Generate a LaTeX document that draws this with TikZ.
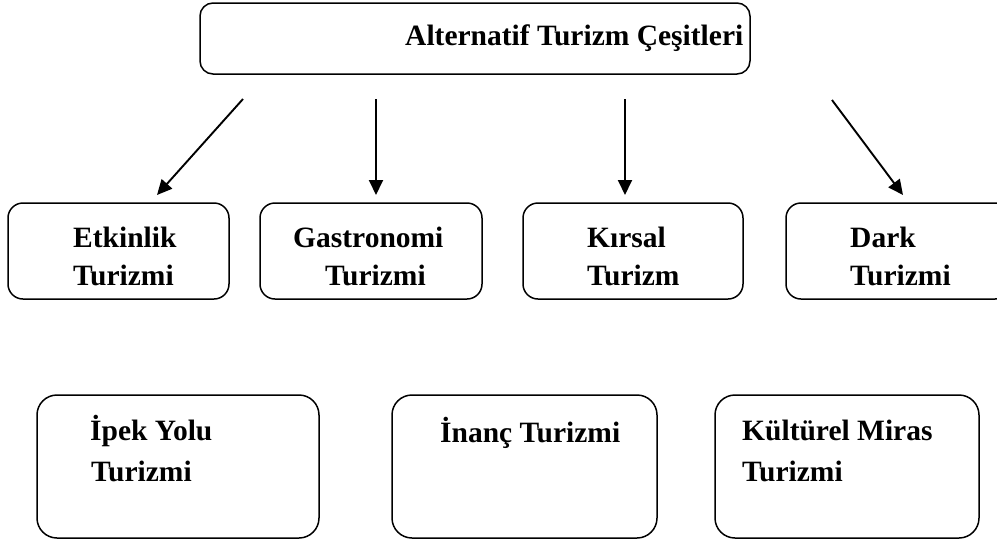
\documentclass[tikz,border=0pt]{standalone}
\usepackage{fontspec}
\setmainfont{Liberation Serif}
\usetikzlibrary{arrows.meta}
\begin{document}
\begin{tikzpicture}[x=1pt,y=-1pt,
  box/.style={draw=black, line width=1.5pt, rounded corners=13pt, inner sep=0pt},
  bigbox/.style={box, rounded corners=20pt},
  lbl/.style={anchor=base west, inner sep=0pt, font=\fontsize{29.5}{34}\selectfont\bfseries},
  arr/.style={line width=1.9pt, -{Triangle[length=15pt,width=14pt]}}]
\useasboundingbox[fill=white] (0,0) rectangle (997,542);
% title
\node[box, minimum width=550pt, minimum height=71pt] (title) at (475,38.5) {};
\node[lbl] (titletxt) at (405,45) {Alternatif Turizm Çeşitleri};
% second row boxes
\node[box, rounded corners=15pt, minimum width=221pt, minimum height=96pt] (etk) at (118.5,251) {};
\node[box, rounded corners=15pt, minimum width=222pt, minimum height=96pt] (gas) at (371,251) {};
\node[box, rounded corners=15pt, minimum width=220pt, minimum height=96pt] (kir) at (633,251) {};
\node[box, rounded corners=15pt, minimum width=224pt, minimum height=96pt] (dar) at (898,251) {};
\node[lbl] (etk1) at (73,247) {Etkinlik};
\node[lbl] (etk2) at (73,285) {Turizmi};
\node[lbl] (gas1) at (293,247) {Gastronomi};
\node[lbl] (gas2) at (325,285) {Turizmi};
\node[lbl] (kir1) at (587,247) {Kırsal};
\node[lbl] (kir2) at (587,285) {Turizm};
\node[lbl] (dar1) at (850,247) {Dark};
\node[lbl] (dar2) at (850,285) {Turizmi};
% third row boxes
\node[bigbox, minimum width=282pt, minimum height=143pt] (ipk) at (178,466.5) {};
\node[bigbox, minimum width=265pt, minimum height=143pt] (ina) at (524.5,466.5) {};
\node[bigbox, minimum width=264pt, minimum height=143pt] (kul) at (847,466.5) {};
\node[lbl] (ipk1) at (90,440) {İpek Yolu};
\node[lbl] (ipk2) at (91,481) {Turizmi};
\node[lbl] (ina1) at (440,442) {İnanç Turizmi};
\node[lbl] (kul1) at (742,440) {Kültürel Miras};
\node[lbl] (kul2) at (742,481) {Turizmi};
% arrows
\coordinate (s1) at (243,99);  \coordinate (e1) at (157,195);
\coordinate (s2) at (376,99);  \coordinate (e2) at (376,195);
\coordinate (s3) at (625,99);  \coordinate (e3) at (625,195);
\coordinate (s4) at (832,100); \coordinate (e4) at (903,195);
\draw[arr] (s1) -- (e1);
\draw[arr] (s2) -- (e2);
\draw[arr] (s3) -- (e3);
\draw[arr] (s4) -- (e4);
\end{tikzpicture}
\end{document}
